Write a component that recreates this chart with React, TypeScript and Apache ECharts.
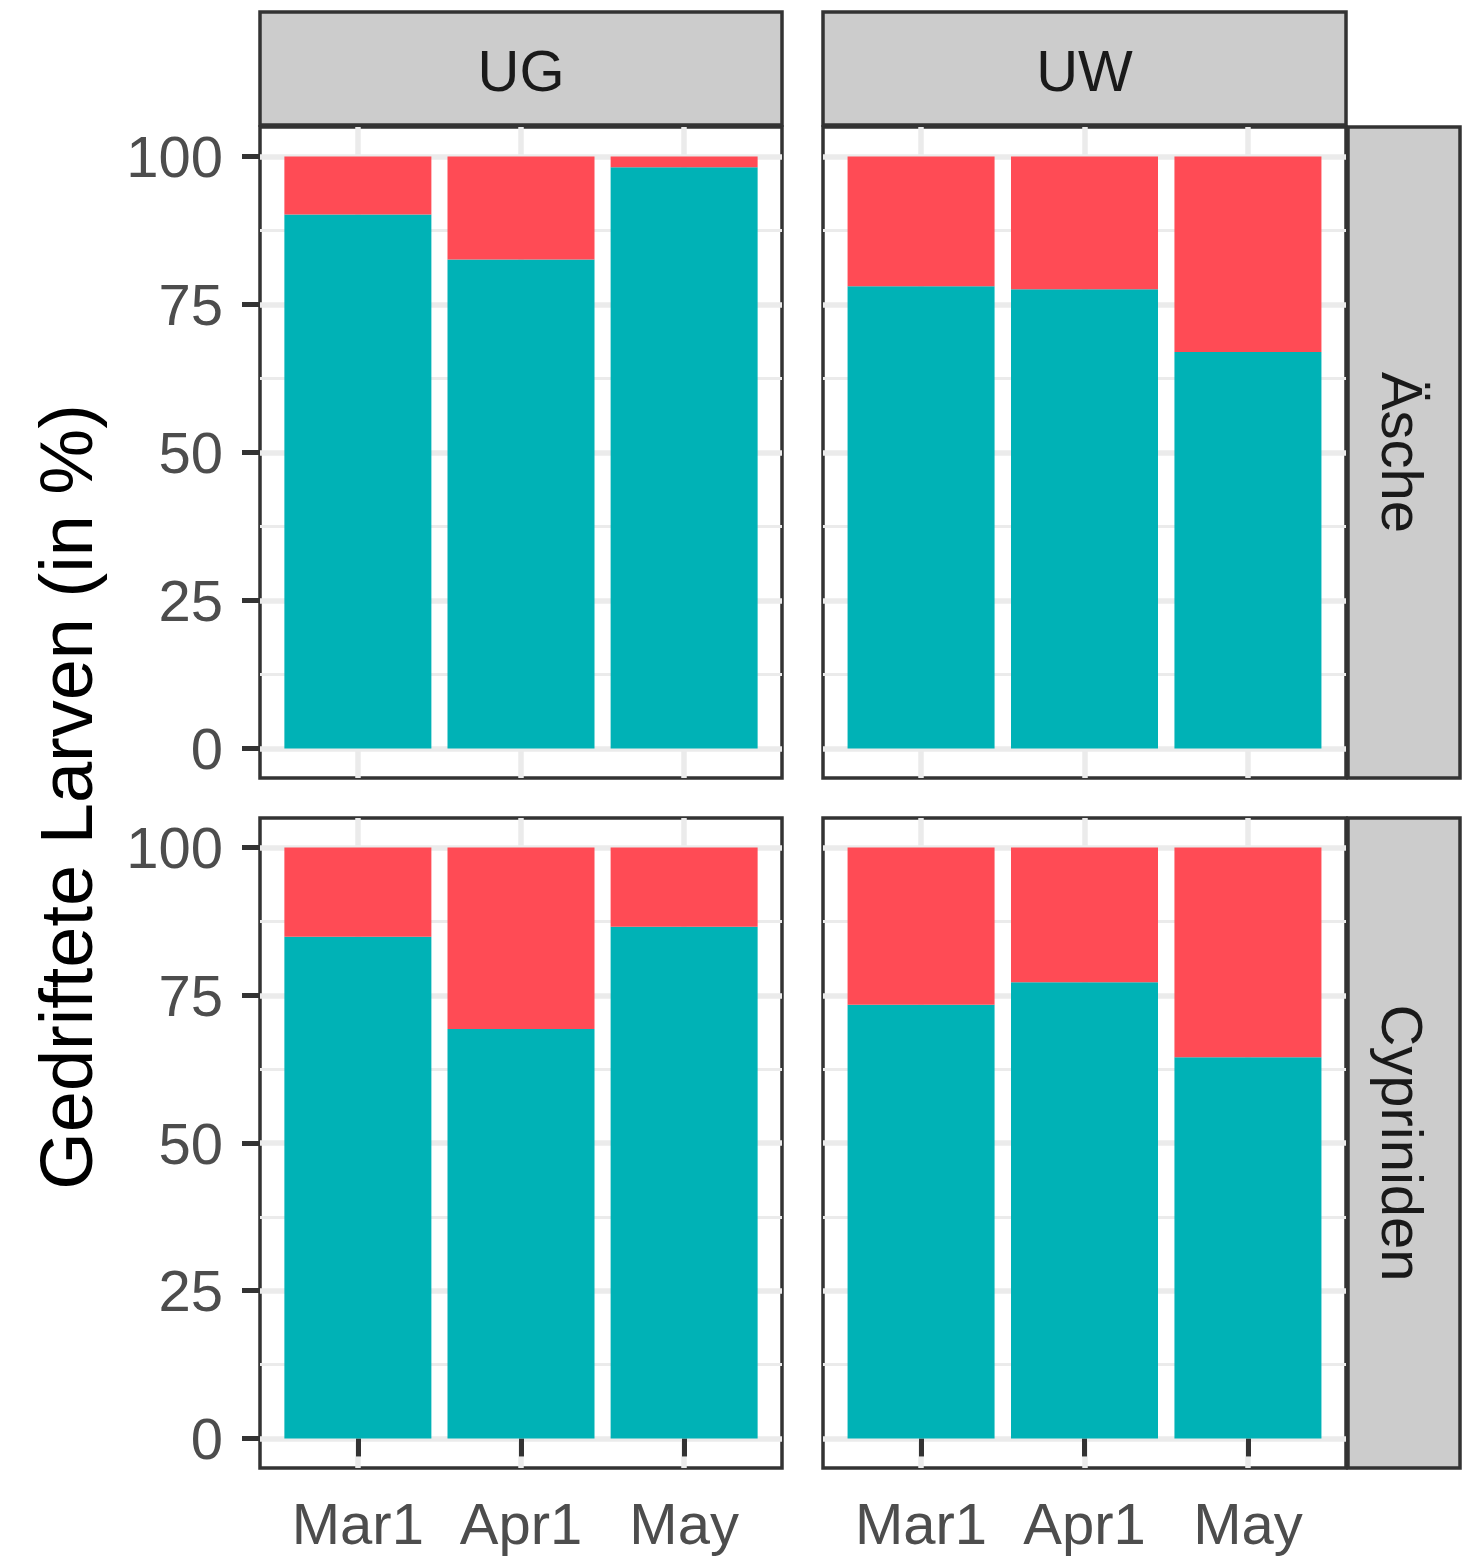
import React, { useEffect, useRef } from "react";
import * as echarts from "echarts";

// ---- data ----
const months = ["Mar1", "Apr1", "May"];
const sites = ["UG", "UW"];
const species = ["Äsche", "Cypriniden"];
// share of the teal group (in %) per month; the red group is the rest up to 100
const ascheUG = [90.2, 82.6, 98.2];
const ascheUW = [78.1, 77.6, 67.0];
const cyprUG = [84.9, 69.3, 86.6];
const cyprUW = [73.4, 77.2, 64.5];
const yTicks = [0, 25, 50, 75, 100];
const yMinorTicks = [12.5, 37.5, 62.5, 87.5];
const monthPositions = [1, 2, 3];

const TEAL = "#00B2B6";
const RED = "#FF4B55";
const FONT = "'Liberation Sans', Arial, Helvetica, sans-serif";

export default function App() {
  const ref = useRef<HTMLDivElement>(null);

  useEffect(() => {
    if (!ref.current) return;
    const chart = echarts.init(ref.current, undefined, { renderer: "svg" });

    const panels = [
      { values: ascheUG, row: 0, col: 0 },
      { values: ascheUW, row: 0, col: 1 },
      { values: cyprUG, row: 1, col: 0 },
      { values: cyprUW, row: 1, col: 1 },
    ];
    const colLeft = [260, 823];
    const colWidth = [522, 523];
    const rowTop = [127, 818];
    const rowHeight = [651, 650];

    const grids: any[] = [];
    const xAxes: any[] = [];
    const yAxes: any[] = [];
    const series: any[] = [];

    panels.forEach((p, i) => {
      const bottomRow = p.row === 1;
      const leftCol = p.col === 0;
      grids.push({
        left: colLeft[p.col],
        top: rowTop[p.row],
        width: colWidth[p.col],
        height: rowHeight[p.row],
        show: true,
        backgroundColor: "#FFFFFF",
        borderColor: "#333333",
        borderWidth: 3.5,
        containLabel: false,
      });
      xAxes.push({
        type: "value",
        gridIndex: i,
        min: 0.4,
        max: 3.6,
        axisLine: { show: false },
        axisTick: {
          show: bottomRow,
          customValues: monthPositions,
          length: 18,
          lineStyle: { color: "#333333", width: 5 },
        },
        axisLabel: {
          show: bottomRow,
          customValues: monthPositions,
          formatter: (v: number) => months[Math.round(v) - 1] ?? "",
          fontSize: 58,
          color: "#4D4D4D",
          fontFamily: FONT,
          margin: 26,
        },
        splitLine: { show: true, lineStyle: { color: "#EBEBEB", width: 5.5 } },
      });
      // minor grid axis
      yAxes.push({
        type: "value",
        gridIndex: i,
        min: -5,
        max: 105,
        position: "left",
        axisLine: { show: false },
        axisTick: { show: false, customValues: yMinorTicks },
        axisLabel: { show: false, customValues: yMinorTicks },
        splitLine: { show: true, lineStyle: { color: "#EBEBEB", width: 3 } },
      });
      // major axis
      yAxes.push({
        type: "value",
        gridIndex: i,
        min: -5,
        max: 105,
        position: "left",
        axisLine: { show: false },
        axisTick: {
          show: leftCol,
          customValues: yTicks,
          length: 18,
          lineStyle: { color: "#333333", width: 5 },
        },
        axisLabel: {
          show: leftCol,
          customValues: yTicks,
          fontSize: 58,
          color: "#4D4D4D",
          fontFamily: FONT,
          margin: 37,
        },
        splitLine: { show: true, lineStyle: { color: "#EBEBEB", width: 5.5 } },
      });
      const yIdx = i * 2 + 1;
      // data as [value, month position] so the value dimension is the stacked one
      series.push({
        type: "bar",
        xAxisIndex: i,
        yAxisIndex: yIdx,
        stack: "s" + i,
        barWidth: 147,
        encode: { x: 1, y: 0 },
        itemStyle: { color: TEAL },
        data: p.values.map((v, k) => [v, monthPositions[k]]),
        z: 3,
      });
      series.push({
        type: "bar",
        xAxisIndex: i,
        yAxisIndex: yIdx,
        stack: "s" + i,
        barWidth: 147,
        encode: { x: 1, y: 0 },
        itemStyle: { color: RED },
        data: p.values.map((v, k) => [+(100 - v).toFixed(1), monthPositions[k]]),
        z: 3,
      });
    });

    const graphics: any[] = [];
    sites.forEach((s, c) => {
      graphics.push({
        type: "rect",
        shape: { x: colLeft[c], y: 12, width: colWidth[c], height: 113 },
        style: { fill: "#CCCCCC", stroke: "#333333", lineWidth: 3.5 },
      });
      graphics.push({
        type: "text",
        x: colLeft[c] + colWidth[c] / 2,
        y: 70,
        style: {
          text: s,
          fontSize: 58,
          fontFamily: FONT,
          fill: "#1A1A1A",
          align: "center",
          verticalAlign: "middle",
        },
      });
    });
    species.forEach((s, r) => {
      graphics.push({
        type: "rect",
        shape: { x: 1348, y: rowTop[r], width: 112, height: rowHeight[r] },
        style: { fill: "#CCCCCC", stroke: "#333333", lineWidth: 3.5 },
      });
      graphics.push({
        type: "text",
        x: 1402,
        y: rowTop[r] + rowHeight[r] / 2,
        rotation: -Math.PI / 2,
        style: {
          text: s,
          fontSize: 58,
          fontFamily: FONT,
          fill: "#1A1A1A",
          align: "center",
          verticalAlign: "middle",
        },
      });
    });
    graphics.push({
      type: "text",
      x: 66,
      y: 797,
      rotation: Math.PI / 2,
      style: {
        text: "Gedriftete Larven (in %)",
        fontSize: 74,
        fontFamily: FONT,
        fill: "#000000",
        align: "center",
        verticalAlign: "middle",
      },
    });

    chart.setOption({
      animation: false,
      backgroundColor: "#FFFFFF",
      textStyle: { fontFamily: FONT },
      grid: grids,
      xAxis: xAxes,
      yAxis: yAxes,
      series,
      graphic: graphics,
    });

    return () => chart.dispose();
  }, []);

  return (
    <div
      ref={ref}
      style={{ position: "absolute", left: 0, top: 0, width: 1466, height: 1565 }}
    />
  );
}
